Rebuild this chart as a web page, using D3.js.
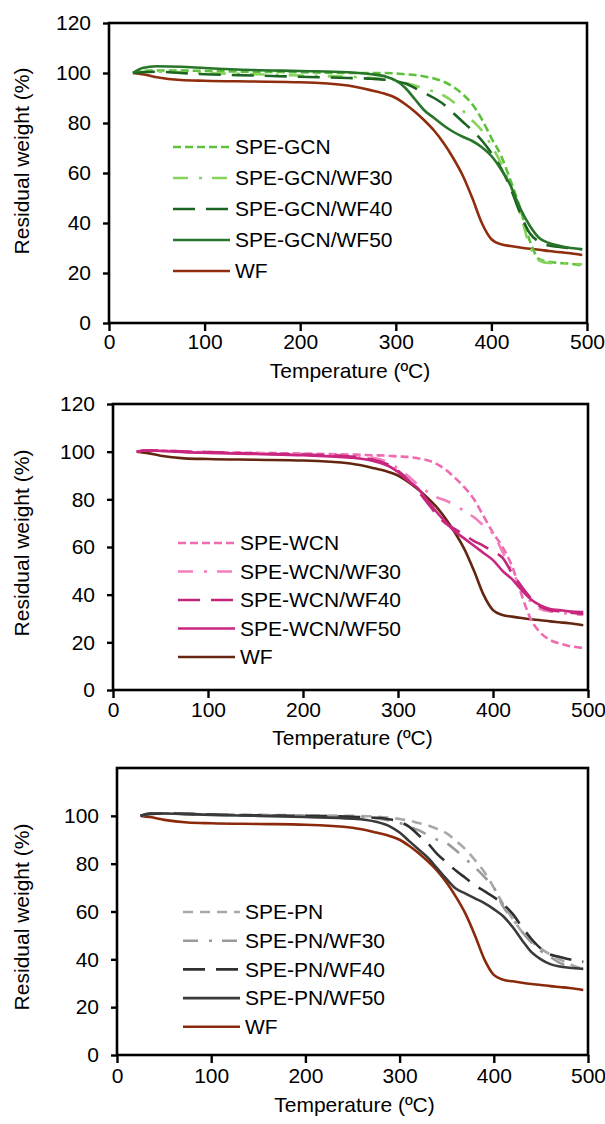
<!DOCTYPE html>
<html>
<head>
<meta charset="utf-8">
<script src="https://cdn.jsdelivr.net/npm/d3@7"></script>
<style>
  html, body { margin: 0; padding: 0; background: #fff; }
  svg { display: block; }
  text { font-family: "Liberation Sans", Arial, sans-serif; fill: #000; }
</style>
</head>
<body>
<svg id="chart" width="605" height="1124"></svg>
<script>
// ---------------- DATA ----------------
const temperature = [25, 35, 50, 75, 100, 150, 200, 250, 275, 290, 300, 310, 320, 330, 340, 350, 360, 370, 380, 390, 400, 410, 420, 430, 440, 450, 460, 470, 480, 495];

const wf = [100, 99.5, 98.3, 97.2, 96.9, 96.6, 96.3, 95, 93, 91.5, 90, 87.5, 84.5, 81, 77, 72, 66, 59, 50, 40, 33.5, 31.5, 30.8, 30.2, 29.7, 29.3, 28.8, 28.4, 28, 27.2];

// Panel 1 : GCN
const speGCN      = [100, 100.8, 101, 101, 100.8, 100.5, 100.3, 100, 100, 100, 99.8, 99.5, 99.2, 98.6, 97.8, 96.5, 94.5, 91.5, 87.5, 81.5, 74, 67, 57, 46, 33, 25.5, 24.5, 24, 23.8, 23];
const speGCNwf30  = [100, 100.5, 100.5, 100.3, 100, 99.5, 99, 98.5, 98, 97.5, 97, 96, 95, 93.8, 92.5, 91, 88.5, 85, 81, 77, 71, 64, 55, 44, 31, 25, 24, 24, 23.8, 23.5];
const speGCNwf40  = [100, 100.3, 100.5, 100, 99.5, 99, 98.5, 98, 97.7, 97.3, 96.8, 95.8, 94, 92, 90, 87.5, 84, 80.5, 77, 73, 68, 62, 54, 44, 36, 32.5, 31, 30.5, 30, 29.5];
const speGCNwf50  = [100, 102, 102.7, 102.5, 102, 101.2, 100.8, 100.3, 99.5, 98.5, 97, 94, 89.5, 85, 82, 79, 76.5, 74.5, 72.8, 70.3, 66.8, 61.5, 55, 46, 39, 34, 32, 31, 30.2, 29.5];

// Panel 2 : WCN
const speWCN      = [100, 100.5, 100.5, 100, 99.8, 99.5, 99.2, 98.8, 98.5, 98.3, 98, 97.8, 97.3, 96.5, 95, 92.5, 89, 85, 80, 73, 66, 60, 52, 40, 29.5, 24, 21, 19.5, 18.5, 17.6];
const speWCNwf30  = [100, 100.5, 100.5, 100, 99.8, 99.3, 99, 98.3, 97.3, 95.5, 93, 90, 86.5, 83.5, 81, 79.5, 77.5, 75, 72.5, 69, 65.5, 58, 50, 42.5, 37, 34, 33, 32.5, 32, 31.5];
const speWCNwf40  = [100, 100.5, 100.5, 100, 99.8, 99.2, 98.8, 98, 96.5, 94.5, 92, 88.5, 84, 79, 74, 70, 67.5, 65, 62.5, 60.5, 58, 55.5, 49, 43.5, 38.5, 35, 33.5, 33, 32.5, 32];
const speWCNwf50  = [100, 100.5, 100.3, 99.8, 99.5, 99, 98.5, 97.5, 96, 94, 91.5, 88, 85, 80, 75, 70.5, 66.5, 63.5, 60.5, 57.5, 54.5, 50, 46.5, 42, 38, 35.5, 34, 33.5, 33, 32.7];

// Panel 3 : PN
const spePN       = [100, 100.8, 101, 100.8, 100.6, 100.4, 100.2, 100, 99.7, 99.2, 98.7, 98, 97, 96, 94.5, 92.7, 89.5, 86, 81.5, 76.5, 70, 63, 57, 51.5, 47.5, 44.5, 42, 40, 38, 36];
const spePNwf30   = [100, 100.8, 101, 100.8, 100.5, 100.3, 100, 99.6, 99, 98, 97, 95.5, 94, 92, 90, 88.6, 85.5, 82, 78.5, 74.5, 70, 62, 57, 51.5, 47, 43.5, 41, 38.5, 37, 36];
const spePNwf40   = [100, 100.8, 101, 100.8, 100.5, 100.2, 100, 99.6, 99.2, 98.5, 97.5, 95.5, 92, 88.5, 84, 80.5, 77, 74, 71, 68.5, 66, 63, 59, 53.5, 48.5, 44.5, 42, 41, 40, 39];
const spePNwf50   = [100, 101, 101, 100.7, 100.4, 100, 99.5, 98.8, 97.5, 95.5, 93, 89.5, 86, 82.5, 78, 73.5, 69.5, 67.5, 65.5, 63.5, 61, 58, 53.5, 48, 43, 40, 38, 37, 36.5, 36];

const xTicks = [0, 100, 200, 300, 400, 500];
const yTicksFull = [0, 20, 40, 60, 80, 100, 120];
const yTicksShort = [0, 20, 40, 60, 80, 100];

const labelsGCN = ["SPE-GCN", "SPE-GCN/WF30", "SPE-GCN/WF40", "SPE-GCN/WF50", "WF"];
const labelsWCN = ["SPE-WCN", "SPE-WCN/WF30", "SPE-WCN/WF40", "SPE-WCN/WF50", "WF"];
const labelsPN  = ["SPE-PN", "SPE-PN/WF30", "SPE-PN/WF40", "SPE-PN/WF50", "WF"];

// ---------------- STYLE / LAYOUT ----------------
const panels = [
  { box: {l:109, r:587, t:23,  b:323}, yMax:120, yTicks: yTicksFull,
    series: [speGCN, speGCNwf30, speGCNwf40, speGCNwf50, wf], labels: labelsGCN,
    colors: ["#5cc23c", "#86d35a", "#1b6421", "#267528", "#8f2d0e"],
    dashes: ["8,4", "15,11,3,10", "22,11", null, null],
    legend: {x:173, y:147, dy:31}, xLabY: 334, xTitleY: 371, yTitleY: 161 },
  { box: {l:113, r:588, t:404, b:690}, yMax:120, yTicks: yTicksFull,
    series: [speWCN, speWCNwf30, speWCNwf40, speWCNwf50, wf], labels: labelsWCN,
    colors: ["#f06ab0", "#f27fbb", "#c2257a", "#c8267f", "#642610"],
    dashes: ["8,4", "15,11,3,10", "22,11", null, null],
    legend: {x:178, y:543, dy:28.5}, xLabY: 702, xTitleY: 738, yTitleY: 543 },
  { box: {l:117, r:588, t:768, b:1055}, yMax:120, yTicks: yTicksShort,
    series: [spePN, spePNwf30, spePNwf40, spePNwf50, wf], labels: labelsPN,
    colors: ["#a8a8a8", "#9a9a9a", "#303030", "#3a3a3a", "#8b2a0a"],
    dashes: ["10,7", "15,11,3,10", "22,11", null, null],
    legend: {x:183, y:912, dy:28.7}, xLabY: 1068, xTitleY: 1105, yTitleY: 917 }
];

const svg = d3.select("#chart");
const FS = 21;

panels.forEach((p, pi) => {
  const x = d3.scaleLinear().domain([0, 500]).range([p.box.l, p.box.r]);
  const y = d3.scaleLinear().domain([0, p.yMax]).range([p.box.b, p.box.t]);
  const g = svg.append("g");

  const line = d3.line()
    .x((d, i) => x(temperature[i]))
    .y(d => y(d))
    .curve(d3.curveMonotoneX);

  const order = [4, 0, 1, 2, 3];
  order.forEach(si => {
    g.append("path")
      .attr("d", line(p.series[si]))
      .attr("fill", "none")
      .attr("stroke", p.colors[si])
      .attr("stroke-width", 2.6)
      .attr("stroke-dasharray", p.dashes[si])
      .attr("stroke-linejoin", "round");
  });

  g.append("rect")
    .attr("x", p.box.l).attr("y", p.box.t)
    .attr("width", p.box.r - p.box.l).attr("height", p.box.b - p.box.t)
    .attr("fill", "none").attr("stroke", "#000").attr("stroke-width", 2.6);

  const xa = g.append("g").attr("transform", `translate(0,${p.box.b})`)
    .call(d3.axisBottom(x).tickValues(xTicks).tickSize(8).tickPadding(4).tickFormat(d3.format("d")));
  xa.select(".domain").remove();
  xa.selectAll("line").attr("stroke", "#000").attr("stroke-width", 2.4);
  xa.selectAll("text").attr("font-size", FS).attr("y", p.xLabY - p.box.b).attr("dy", "0.71em")
    .attr("font-family", "Liberation Sans, Arial, sans-serif").attr("fill", "#000");

  const ya = g.append("g").attr("transform", `translate(${p.box.l},0)`)
    .call(d3.axisLeft(y).tickValues(p.yTicks).tickSize(6).tickPadding(12).tickFormat(d3.format("d")));
  ya.select(".domain").remove();
  ya.selectAll("line").attr("stroke", "#000").attr("stroke-width", 2.4);
  ya.selectAll("text").attr("font-size", FS)
    .attr("font-family", "Liberation Sans, Arial, sans-serif").attr("fill", "#000");

  g.append("text")
    .attr("x", (p.box.l + p.box.r) / 2 + 2).attr("y", p.xTitleY)
    .attr("text-anchor", "middle").attr("dy", "0.35em")
    .attr("font-size", FS).text("Temperature (ºC)");
  g.append("text")
    .attr("transform", `translate(22,${p.yTitleY}) rotate(-90)`)
    .attr("text-anchor", "middle").attr("dy", "0.35em")
    .attr("font-size", FS).text("Residual weight (%)");

  p.labels.forEach((lab, i) => {
    const ly = p.legend.y + i * p.legend.dy;
    g.append("line")
      .attr("x1", p.legend.x).attr("x2", p.legend.x + 57)
      .attr("y1", ly).attr("y2", ly)
      .attr("stroke", p.colors[i]).attr("stroke-width", 2.6)
      .attr("stroke-dasharray", p.dashes[i]);
    g.append("text")
      .attr("x", p.legend.x + 62).attr("y", ly).attr("dy", "0.35em")
      .attr("font-size", FS).text(lab);
  });
});
</script>
</body>
</html>
